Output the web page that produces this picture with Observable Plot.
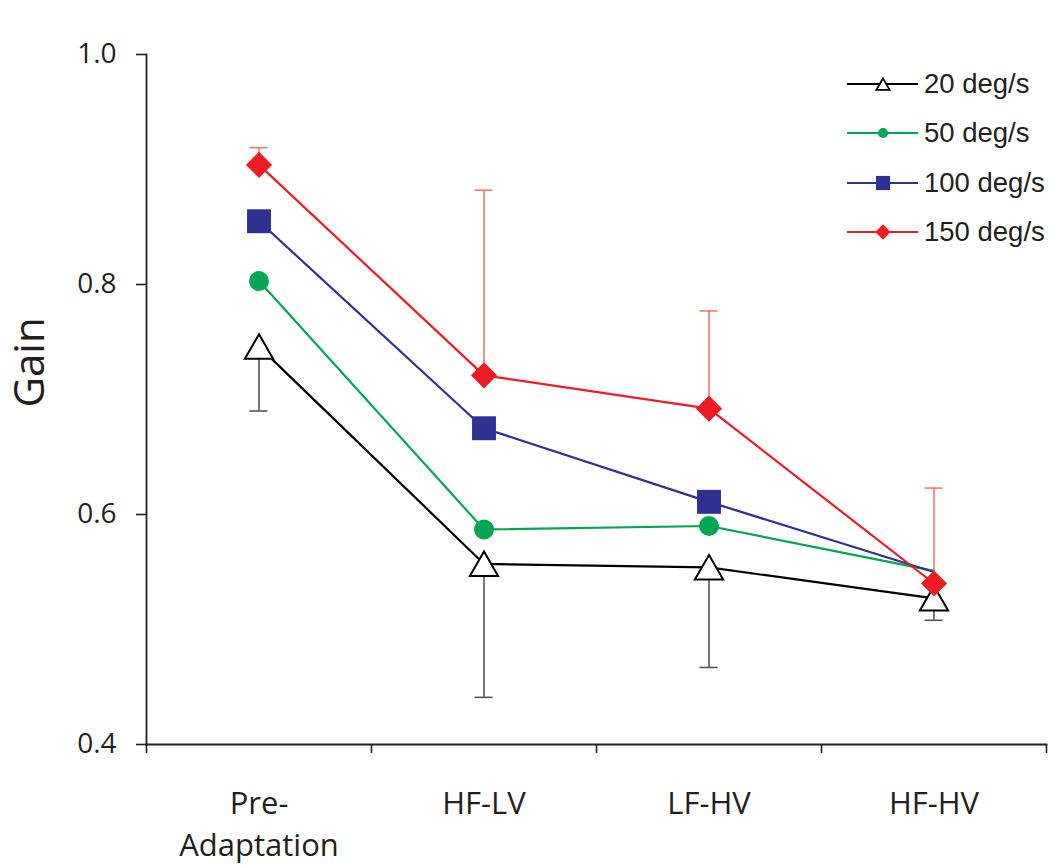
<!DOCTYPE html>
<html>
<head>
<meta charset="utf-8">
<script src="https://cdn.jsdelivr.net/npm/d3@7"></script>
<script src="https://cdn.jsdelivr.net/npm/@observablehq/plot@0.6"></script>
<style>
  html, body { margin: 0; padding: 0; background: #fff; }
  #wrap { position: relative; width: 1050px; height: 867px; }
  #legend { position: absolute; left: 847px; top: 0; font-family: "Liberation Sans", Arial, sans-serif; font-size: 27.5px; color: #231f20; }
  .row { position: absolute; left: 0; display: flex; align-items: center; height: 30px; white-space: nowrap; }
  .row svg { display: block; }
  .row span { margin-left: 5px; }
</style>
</head>
<body>
<div id="wrap"><div id="legend"></div></div>
<script>
// ---- data ----
const categories = ["Pre-\nAdaptation", "HF-LV", "LF-HV", "HF-HV"];
const series = ["20 deg/s", "50 deg/s", "100 deg/s", "150 deg/s"];
const colors = ["#000000", "#00a651", "#2e3192", "#ed1c24"];
const gain20  = [0.746, 0.557, 0.554, 0.527];
const gain50  = [0.803, 0.587, 0.590, 0.551];
const gain100 = [0.855, 0.675, 0.611, 0.550];
const gain150 = [0.904, 0.721, 0.692, 0.540];
const errDown20 = [0.056, 0.116, 0.087, 0.019];
const errUp150  = [0.015, 0.161, 0.085, 0.083];
const yTicks = [0.4, 0.6, 0.8, 1.0];
// markers not drawn in the original
const hiddenMarkers = [["50 deg/s", "HF-HV"], ["100 deg/s", "HF-HV"]];

const gains = [gain20, gain50, gain100, gain150];
const data = series.flatMap((s, si) => categories.map((c, ci) => ({
  series: s, cat: c, x: ci + 0.5, y: gains[si][ci],
  show: !hiddenMarkers.some(([hs, hc]) => hs === s && hc === c)
})));
const err20 = categories.map((c, i) => ({x: i + 0.5, y1: gain20[i], y2: gain20[i] - errDown20[i]}));
const err150 = categories.map((c, i) => ({x: i + 0.5, y1: gain150[i], y2: gain150[i] + errUp150[i]}));
const capHalf = 0.04;

const ser = s => data.filter(d => d.series === s && d.show);

const chart = Plot.plot({
  width: 1050, height: 867,
  marginLeft: 146, marginRight: 4, marginTop: 54, marginBottom: 123,
  x: {domain: [0, 4]},
  y: {domain: [0.4, 1.0]},
  color: {domain: series, range: colors},
  style: {background: "white", fontFamily: "'Open Sans', sans-serif", color: "#231f20"},
  marks: [
    Plot.axisY({ticks: yTicks, tickFormat: d3.format(".1f"), tickSize: 10, tickPadding: 20, fontSize: 28, strokeWidth: 1.6, label: null}),
    Plot.axisX({ticks: [0, 1, 2, 3, 4], tickFormat: () => "", tickSize: 9, strokeWidth: 1.6, label: null}),
    Plot.axisX({ticks: [0.5, 1.5, 2.5, 3.5], tickFormat: d => categories[Math.floor(d)], tickSize: 0, tickPadding: 40, fontSize: 31, lineHeight: 1.35, label: null}),
    Plot.frame({anchor: "left", strokeWidth: 1.8}),
    Plot.frame({anchor: "bottom", strokeWidth: 1.8}),
    Plot.text(["Gain"], {text: d => d, frameAnchor: "left", rotate: -90, dx: -116, dy: 8, fontSize: 42, lineAnchor: "middle", fill: "#231f20"}),
    Plot.line(data, {x: "x", y: "y", stroke: "series", z: "series", strokeWidth: 2.2}),
    Plot.ruleX(err20, {x: "x", y1: "y1", y2: "y2", stroke: "#4d4d4d", strokeWidth: 1.5}),
    Plot.ruleY(err20, {y: "y2", x1: d => d.x - capHalf, x2: d => d.x + capHalf, stroke: "#4d4d4d", strokeWidth: 1.5}),
    Plot.ruleX(err150, {x: "x", y1: "y1", y2: "y2", stroke: "#f4705f", strokeWidth: 1.5}),
    Plot.ruleY(err150, {y: "y2", x1: d => d.x - capHalf, x2: d => d.x + capHalf, stroke: "#f4705f", strokeWidth: 1.5}),
    Plot.dot(ser("20 deg/s"), {x: "x", y: "y", symbol: "triangle", r: 10.5, dy: 4, fill: "white", stroke: "black", strokeWidth: 2}),
    Plot.dot(ser("50 deg/s"), {x: "x", y: "y", symbol: "circle", r: 10, fill: colors[1], stroke: "none"}),
    Plot.dot(ser("100 deg/s"), {x: "x", y: "y", symbol: "square", r: 13.5, fill: colors[2], stroke: "none"}),
    Plot.dot(ser("150 deg/s"), {x: "x", y: "y", symbol: "diamond2", r: 11.8, fill: colors[3], stroke: "none"})
  ]
});
document.getElementById("wrap").prepend(chart);

// ---- legend ----
const legend = d3.select("#legend");
const legSyms = [d3.symbolTriangle, d3.symbolCircle, d3.symbolSquare, d3.symbolDiamond2];
const legSizes = [75, 80, 200, 150];
series.forEach((s, i) => {
  const row = legend.append("div").attr("class", "row").style("top", (84 + i * 49.3 - 15) + "px");
  const svg = row.append("svg").attr("width", 72).attr("height", 30);
  svg.append("line").attr("x1", 0).attr("x2", 71).attr("y1", 15).attr("y2", 15)
    .attr("stroke", colors[i]).attr("stroke-width", 2);
  svg.append("path").attr("d", d3.symbol(legSyms[i], legSizes[i])())
    .attr("transform", `translate(36,${i === 0 ? 17 : 15})`)
    .attr("fill", i === 0 ? "white" : colors[i])
    .attr("stroke", i === 0 ? "black" : "none").attr("stroke-width", 1.8);
  row.append("span").text(s);
});
</script>
</body>
</html>
